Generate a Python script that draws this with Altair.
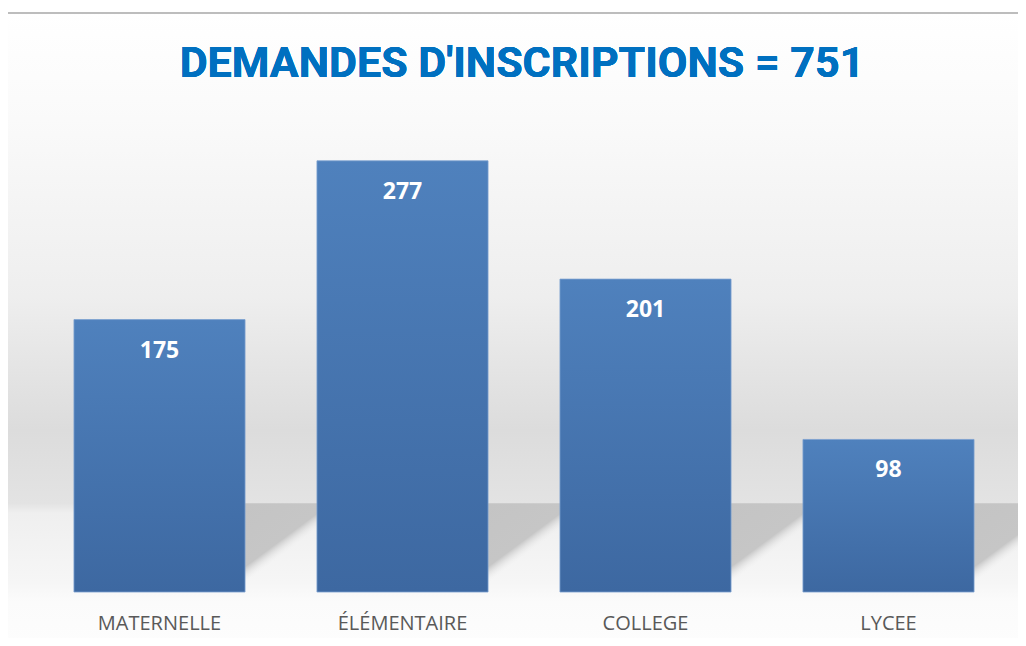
import altair as alt
import pandas as pd

categories = ["MATERNELLE", "ÉLÉMENTAIRE", "COLLEGE", "LYCEE"]
values = [175, 277, 201, 98]
title_text = "DEMANDES D'INSCRIPTIONS = 751"

df = pd.DataFrame({"cat": categories, "val": values})

W, H = 972, 467
x_enc = alt.X("cat:N", sort=categories,
              scale=alt.Scale(paddingInner=0.296, paddingOuter=0.148),
              axis=alt.Axis(title=None, labelAngle=0, domain=False, ticks=False,
                            labelPadding=21, labelFont="Open Sans", labelFontSize=20,
                            labelColor="#595959", grid=False, zindex=2))
y_scale = alt.Scale(domain=[0, 300], nice=False)
y_enc = alt.Y("val:Q", scale=y_scale, axis=None)

bg = alt.Chart(df).mark_rect(
    fill={"gradient": "linear", "x1": 0, "y1": 0, "x2": 0, "y2": 1,
          "stops": [
              {"offset": 0.0, "color": "#ffffff"},
              {"offset": 0.17, "color": "#fafafa"},
              {"offset": 0.45, "color": "#eeeeee"},
              {"offset": 0.66, "color": "#dcdcdc"},
              {"offset": 0.775, "color": "#e3e3e3"},
              {"offset": 0.79, "color": "#efefef"},
              {"offset": 0.9, "color": "#f6f6f6"},
              {"offset": 0.93, "color": "#fbfbfb"},
              {"offset": 1.0, "color": "#fdfdfd"},
          ]}
).encode(x=alt.value(-34), x2=alt.value(1000), y=alt.value(-113), y2=alt.value(521))

shadow = alt.Chart(df).transform_calculate(
    top="57", base="0"
).mark_bar(
    width=120, xOffset=145,
    fill={"gradient": "linear", "x1": 0, "y1": 0, "x2": 1, "y2": 1,
          "stops": [
              {"offset": 0.0, "color": "#c4c4c4"},
              {"offset": 0.36, "color": "#c6c6c6"},
              {"offset": 0.45, "color": "rgba(240,240,240,0)"},
              {"offset": 1.0, "color": "rgba(240,240,240,0)"},
          ]}
).encode(x=x_enc, y=alt.Y("top:Q", scale=y_scale, axis=None), y2="base:Q")

bars = alt.Chart(df).mark_bar(
    fill={"gradient": "linear", "x1": 0, "y1": 0, "x2": 0, "y2": 1,
          "stops": [{"offset": 0, "color": "#4F81BD"},
                    {"offset": 1, "color": "#3D68A1"}]},
    stroke="#7a9fcf", strokeWidth=0.8
).encode(x=x_enc, y=y_enc)

labels = alt.Chart(df).mark_text(
    font="Open Sans", fontWeight="bold", fontSize=23, color="white",
    baseline="middle", dy=31
).encode(x=x_enc, y=y_enc, text="val:Q")

border_top = alt.Chart(df).mark_rule(color="#bdbdbd", strokeWidth=2).encode(
    x=alt.value(-34), x2=alt.value(1000), y=alt.value(-112))
border_left = alt.Chart(df).mark_rule(color="#cfcfcf", strokeWidth=1.5).encode(
    x=alt.value(-34), y=alt.value(-112), y2=alt.value(530))

title = alt.Chart(df).mark_text(
    font="Roboto", fontWeight="bold", fontSize=43, color="#0070C0",
    baseline="middle", align="center"
).encode(x=alt.value(W / 2 - 2), y=alt.value(-61), text=alt.datum(title_text))

chart = alt.layer(bg, shadow, border_top, border_left, bars, labels, title).properties(
    width=W, height=H,
    autosize=alt.AutoSizeParams(type="none"),
    padding={"left": 30, "top": 117, "right": 8, "bottom": 46},
).configure_view(stroke=None)

chart.save("out.html", embed_options={"renderer": "svg", "actions": False})
